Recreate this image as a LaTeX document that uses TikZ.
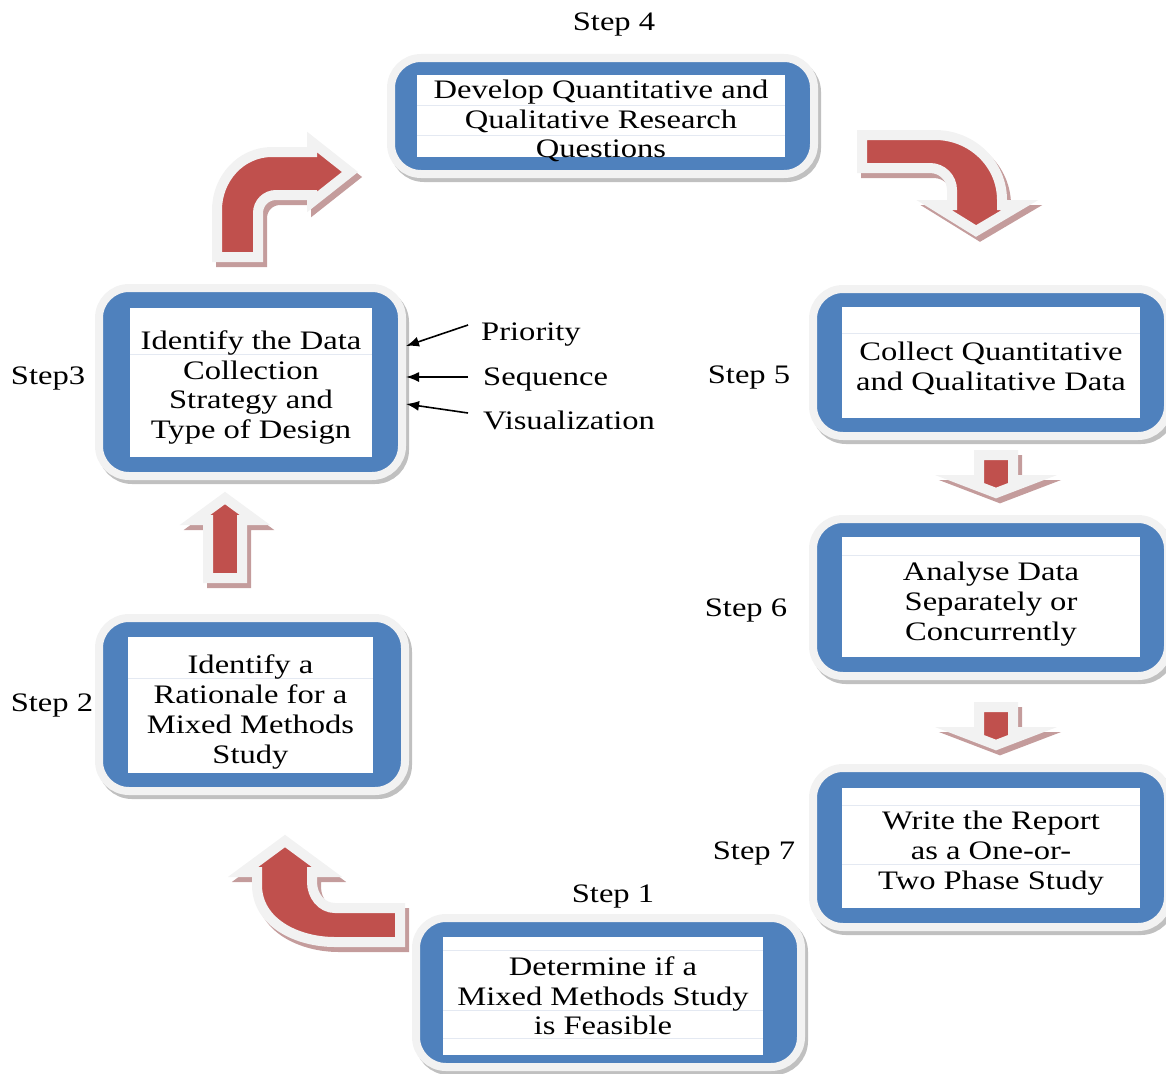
\documentclass[tikz,border=0pt]{standalone}
\usepackage{fontspec}
\setmainfont{Liberation Serif}[FakeStretch=1.22]
\usetikzlibrary{arrows.meta}
\definecolor{frameblue}{RGB}{79,129,189}
\definecolor{rimgray}{RGB}{242,242,242}
\definecolor{boxshade}{RGB}{192,192,192}
\definecolor{arrowred}{RGB}{192,80,77}
\definecolor{arrowshade}{RGB}{196,156,156}
\definecolor{rowgray}{RGB}{228,233,242}
\newcommand{\boxfont}{\fontsize{26.7}{29.7}\selectfont}
\tikzset{
  bluebox/.style={fill=frameblue, draw=rimgray, line width=8pt, rounded corners=30pt,
    preaction={fill=boxshade, draw=boxshade, line width=8pt, transform canvas={shift={(3pt,-4pt)}}}},
  inbox/.style={fill=white, inner sep=0pt},
  boxtext/.style={align=center, inner sep=0pt, font=\boxfont},
  steplbl/.style={anchor=base, inner sep=0pt, font=\boxfont},
  sidelbl/.style={anchor=base west, inner sep=0pt, font=\boxfont},
  rowline/.style={draw=rowgray, line width=1pt},
  bigarrow/.style={fill=arrowred, draw=rimgray, line width=10pt, line join=miter,
    preaction={fill=arrowshade, draw=arrowshade, line width=10pt, line join=miter, transform canvas={shift={(4pt,-5pt)}}}},
  pointer/.style={-{Latex[length=13pt,width=10pt]}, line width=1.6pt}
}
\begin{document}
\begin{tikzpicture}[x=1pt,y=-1pt]
\useasboundingbox (0,0) rectangle (1166,1073);

\node[steplbl] (s4) at (614,31) {Step 4};
\node[bluebox, minimum width=423pt, minimum height=116pt] (b4) at (602.5,116) {};
\node[inbox, minimum width=368pt, minimum height=82pt] (w4) at (601,116) {};
\draw[rowline] (w4.west |- 0,105) -- (w4.east |- 0,105);
\draw[rowline] (w4.west |- 0,135) -- (w4.east |- 0,135);
\node[boxtext] (t4) at (601,121) {Develop Quantitative and\\Qualitative Research\\Questions};

\node[steplbl] (s3) at (48,384) {Step3};
\node[bluebox, minimum width=303pt, minimum height=188pt] (b3) at (250.5,382) {};
\node[inbox, minimum width=242pt, minimum height=149pt] (w3) at (251,382.5) {};
\draw[rowline] (w3.west |- 0,354) -- (w3.east |- 0,354);
\node[boxtext] (t3) at (251,387.5) {Identify the Data\\Collection\\Strategy and\\Type of Design};

\node[steplbl] (s2) at (52,711) {Step 2};
\node[bluebox, minimum width=306pt, minimum height=173pt] (b2) at (252,704.5) {};
\node[inbox, minimum width=245pt, minimum height=136pt] (w2) at (250.5,705) {};
\draw[rowline] (w2.west |- 0,678) -- (w2.east |- 0,678);
\node[boxtext] (t2) at (250.5,712) {Identify a\\Rationale for a\\Mixed Methods\\Study};

\node[steplbl] (s1) at (613,902) {Step 1};
\node[bluebox, minimum width=385pt, minimum height=149pt] (b1) at (608.5,992.5) {};
\node[inbox, minimum width=320pt, minimum height=118pt] (w1) at (603,996) {};
\draw[rowline] (w1.west |- 0,950) -- (w1.east |- 0,950);
\draw[rowline] (w1.west |- 0,1010) -- (w1.east |- 0,1010);
\draw[rowline] (w1.west |- 0,1038) -- (w1.east |- 0,1038);
\node[boxtext] (t1) at (603,996) {Determine if a\\Mixed Methods Study\\is Feasible};

\node[steplbl] (s5) at (749,383) {Step 5};
\node[bluebox, minimum width=355pt, minimum height=147pt] (b5) at (990.5,362.5) {};
\node[inbox, minimum width=298pt, minimum height=111pt] (w5) at (991,362.5) {};
\draw[rowline] (w5.west |- 0,333) -- (w5.east |- 0,333);
\node[boxtext] (t5) at (991,368.5) {Collect Quantitative\\and Qualitative Data};

\node[steplbl] (s6) at (746,616) {Step 6};
\node[bluebox, minimum width=355pt, minimum height=157pt] (b6) at (990.5,597.5) {};
\node[inbox, minimum width=298pt, minimum height=120pt] (w6) at (991,597) {};
\draw[rowline] (w6.west |- 0,555) -- (w6.east |- 0,555);
\node[boxtext] (t6) at (991,604) {Analyse Data\\Separately or\\Concurrently};

\node[steplbl] (s7) at (754,859) {Step 7};
\node[bluebox, minimum width=355pt, minimum height=159pt] (b7) at (990.5,847.5) {};
\node[inbox, minimum width=298pt, minimum height=120pt] (w7) at (991,848) {};
\draw[rowline] (w7.west |- 0,805) -- (w7.east |- 0,805);
\draw[rowline] (w7.west |- 0,864) -- (w7.east |- 0,864);
\node[boxtext] (t7) at (991,853) {Write the Report\\as a One-or-\\Two Phase Study};

\node[sidelbl] (prio) at (481,340) {Priority};
\node[sidelbl] (seq) at (483,385) {Sequence};
\node[sidelbl] (vis) at (483,429) {Visualization};
\draw[pointer] ([xshift=-13pt,yshift=15pt]prio.base west) -- ([xshift=0pt,yshift=36pt]b3.east);
\draw[pointer] ([xshift=-15pt,yshift=8pt]seq.base west) -- ([xshift=0pt,yshift=5pt]b3.east);
\draw[pointer] ([xshift=-15pt,yshift=16pt]vis.base west) -- ([xshift=0pt,yshift=-22pt]b3.east);

\draw[bigarrow] (400,908) -- (335,908) to[out=180,in=-90] (312,882) -- (312,872) -- (327,872)
  -- (285,841) -- (243,872) -- (257,872) -- (257,885) to[out=-90,in=180] (335,942) -- (400,942) -- cycle;
\draw[bigarrow] (208,578) -- (208,520) -- (195,520) -- (225,498) -- (255,520) -- (242,520) -- (242,578) -- cycle;
\draw[bigarrow] (217,257) -- (217,210) to[out=90,in=180] (272,152) -- (312,152) -- (312,142) -- (350,172)
  -- (312,202) -- (312,195) -- (276,195) to[out=180,in=90] (258,213) -- (258,257) -- cycle;
\draw[bigarrow] (862,135) -- (935,135) to[out=0,in=90] (1002,200) -- (1002,205) -- (1020,205) -- (976,231)
  -- (934,205) -- (952,205) -- (952,190) to[out=90,in=0] (930,168) -- (862,168) -- cycle;
\draw[bigarrow] (979,455) -- (1013,455) -- (1013,480) -- (1030,480) -- (996,493) -- (962,480) -- (979,480) -- cycle;
\draw[bigarrow] (979,707) -- (1013,707) -- (1013,732) -- (1030,732) -- (996,745) -- (962,732) -- (979,732) -- cycle;
\end{tikzpicture}
\end{document}
